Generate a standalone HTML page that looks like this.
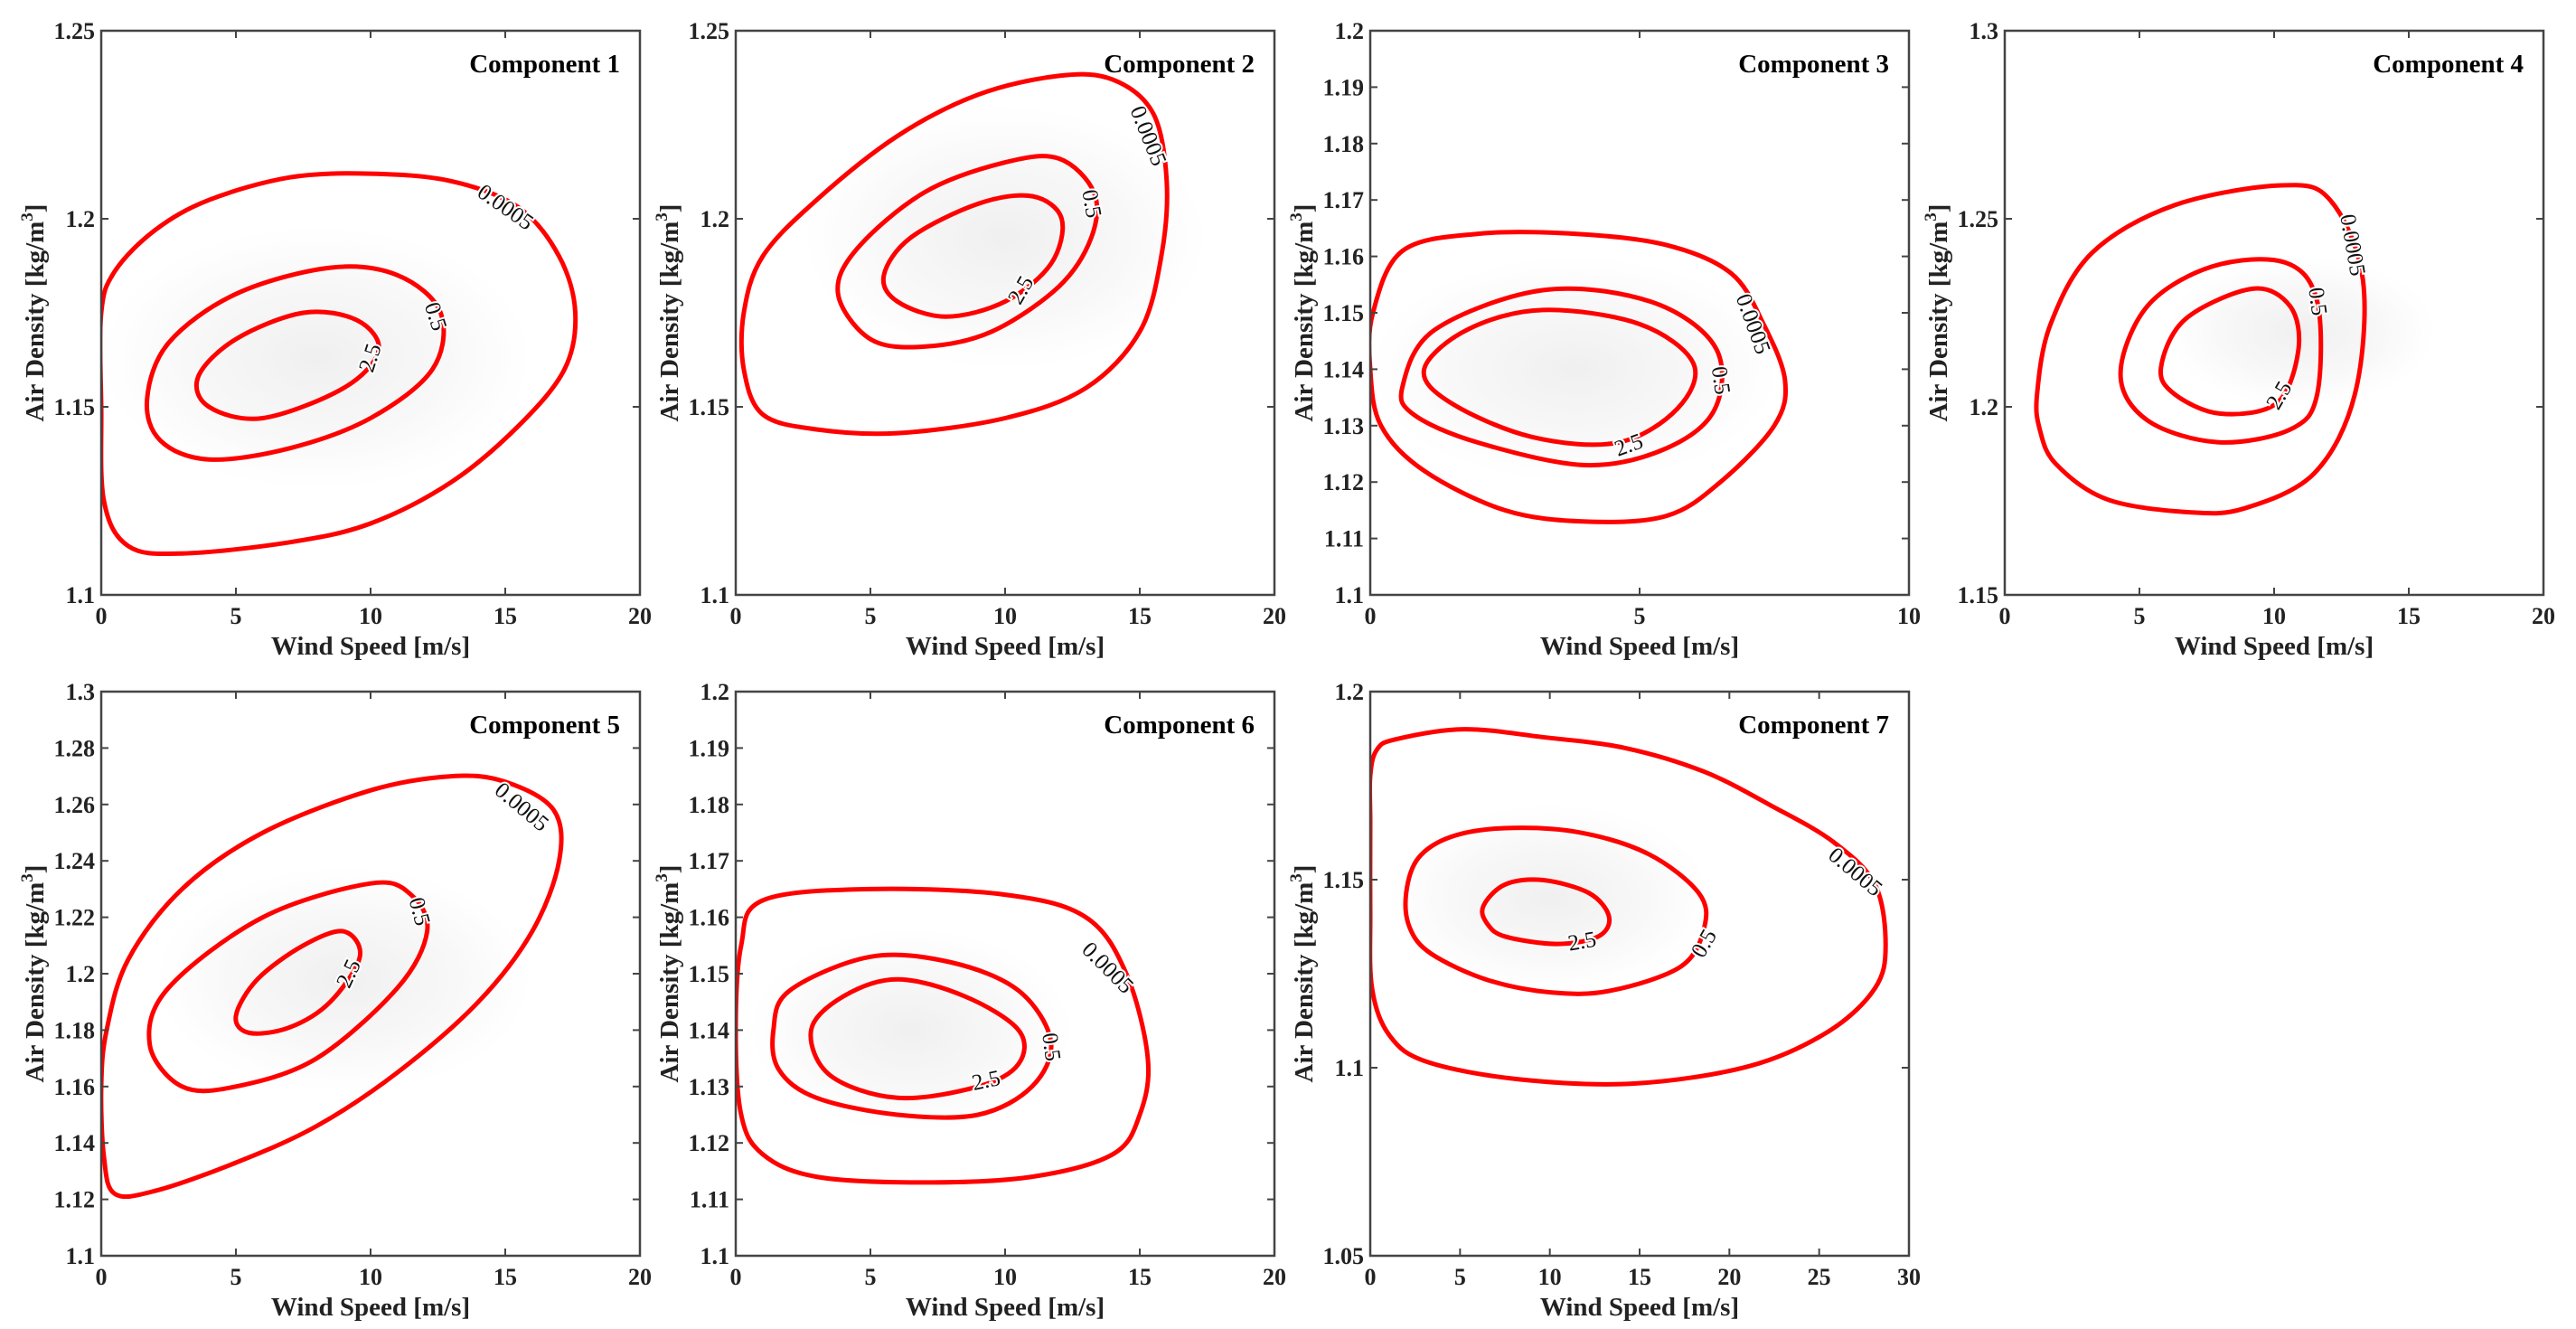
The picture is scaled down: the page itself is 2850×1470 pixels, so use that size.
<!DOCTYPE html>
<html><head><meta charset="utf-8">
<style>
html,body{margin:0;padding:0;background:#fff;}
svg{display:block;}
text{font-family:"Liberation Serif",serif;}
.tick{font-weight:bold;font-size:26px;fill:#222;}
.axl{font-weight:bold;font-size:29px;fill:#222;}
.ttl{font-weight:bold;font-size:29px;fill:#000;}
.cl{font-size:25px;fill:#111;}
</style></head>
<body>
<svg id="fig" width="2850" height="1470" viewBox="0 0 2850 1470" xmlns="http://www.w3.org/2000/svg">
<defs>
<radialGradient id="haze" cx="50%" cy="50%" r="50%">
<stop offset="0%" stop-color="#888" stop-opacity="0.13"/>
<stop offset="60%" stop-color="#999" stop-opacity="0.07"/>
<stop offset="100%" stop-color="#aaa" stop-opacity="0"/>
</radialGradient>
</defs>
</svg>
<script>
const p1Outer=[[0,1.175],[0.5,1.186],[2,1.197],[4,1.205],[7,1.211],[10,1.212],[13,1.21],[15.5,1.203],[17,1.19],[17.6,1.175],[17.2,1.16],[15.5,1.145],[13,1.13],[10,1.119],[7,1.114],[3,1.111],[1,1.113],[0.1,1.125],[0,1.15]];
const p1Mid=[[1.7,1.152],[2.5,1.167],[5,1.18],[8.5,1.187],[11,1.185],[12.6,1.175],[12.3,1.16],[10,1.147],[7,1.139],[4,1.136],[2.2,1.141]];
const p1Inner=[[3.6,1.158],[5,1.168],[7.5,1.175],[9.5,1.173],[10.3,1.165],[9,1.155],[6,1.147],[4,1.15]];
const p2Outer=[[0.3,1.175],[1,1.19],[3,1.205],[6,1.222],[9,1.233],[12,1.238],[14,1.237],[15.5,1.228],[16,1.21],[15.8,1.19],[15,1.17],[13,1.155],[10,1.147],[6,1.143],[3,1.144],[1,1.148],[0.3,1.16]];
const p2Mid=[[3.8,1.18],[4.5,1.192],[7,1.207],[10,1.215],[12,1.216],[13.3,1.207],[13.2,1.195],[12,1.182],[9.5,1.17],[7,1.166],[5,1.168]];
const p2Inner=[[5.5,1.185],[6.5,1.195],[9,1.204],[11,1.206],[12.1,1.2],[11.7,1.188],[10,1.178],[7.8,1.174],[6,1.178]];
const p3Outer=[[0.05,1.15],[0.6,1.161],[2,1.164],[3.8,1.164],[5.5,1.162],[6.7,1.157],[7.3,1.148],[7.7,1.138],[7.5,1.13],[6.5,1.12],[5.5,1.114],[4,1.113],[2.5,1.115],[1,1.122],[0.2,1.13],[0,1.14]];
const p3Mid=[[0.6,1.137],[1.2,1.147],[3.2,1.154],[5.2,1.152],[6.4,1.144],[6.4,1.133],[5.5,1.126],[4,1.123],[2,1.127],[0.8,1.132]];
const p3Inner=[[1,1.14],[1.8,1.147],[3.2,1.1505],[5,1.148],[6,1.141],[5.7,1.133],[4.6,1.127],[3,1.128],[1.5,1.134]];
const p4Outer=[[1.2,1.2035],[1.7,1.222],[3.25,1.241],[6.3,1.2536],[10.3,1.2589],[12.1,1.2548],[13.3,1.2337],[13,1.2034],[11.5,1.1824],[8.9,1.173],[6.8,1.172],[3.8,1.1754],[1.9,1.1848],[1.3,1.194]];
const p4Mid=[[4.3,1.2087],[5.3,1.2268],[7.7,1.2373],[10.4,1.2384],[11.6,1.228],[11.6,1.2034],[10.6,1.194],[7.9,1.1906],[5.3,1.1964]];
const p4Inner=[[5.8,1.2104],[6.7,1.2233],[9.2,1.2314],[10.6,1.2267],[10.9,1.215],[10.1,1.201],[8,1.1982],[6.3,1.2034]];
const p5Outer=[[0.1,1.135],[0.5,1.122],[2,1.123],[5,1.133],[8,1.146],[11,1.165],[14,1.19],[16,1.215],[17,1.24],[16.8,1.258],[15,1.268],[13,1.27],[10,1.265],[6,1.25],[3,1.23],[1,1.205],[0.2,1.18],[0,1.16]];
const p5Mid=[[1.8,1.175],[3,1.16],[5,1.16],[8,1.17],[11,1.195],[12.1,1.215],[11.5,1.228],[10,1.232],[6,1.22],[2.5,1.195]];
const p5Inner=[[5,1.185],[5.8,1.198],[7.5,1.21],[9,1.215],[9.6,1.206],[8.5,1.19],[7,1.181],[5.5,1.179]];
const p6Outer=[[0,1.14],[0.2,1.155],[1,1.163],[5,1.165],[10,1.164],[13,1.16],[14.5,1.15],[15.3,1.135],[15,1.125],[14,1.118],[11,1.114],[7,1.113],[3,1.114],[1,1.118],[0.2,1.125]];
const p6Mid=[[1.4,1.14],[2,1.147],[5,1.153],[8,1.152],[10.5,1.147],[11.7,1.138],[11,1.13],[9,1.125],[6,1.125],[3,1.128],[1.6,1.133]];
const p6Inner=[[2.8,1.14],[4,1.146],[6,1.149],[8.5,1.146],[10.5,1.14],[10.5,1.134],[9,1.13],[6,1.128],[3.5,1.132]];
const p7Outer=[[0,1.1776],[0.36,1.1845],[1.4,1.1873],[5.2,1.19],[9.6,1.1879],[14.2,1.185],[18.6,1.1787],[22.4,1.1695],[25.8,1.16],[28.1,1.1488],[28.7,1.1326],[28.1,1.1211],[25.5,1.1096],[21.1,1.1004],[14.7,1.0958],[8.3,1.0969],[3.2,1.1015],[1.1,1.1084],[0.1,1.1211],[0,1.1418],[0,1.1649]];
const p7Mid=[[2,1.1464],[2.67,1.1557],[4.5,1.1614],[7.5,1.1637],[11.6,1.1626],[15.5,1.1568],[18.3,1.1464],[18.6,1.1372],[17.3,1.1269],[13.4,1.1205],[10.1,1.12],[6.5,1.1234],[3.4,1.1303],[2.2,1.1372]];
const p7Inner=[[6.3,1.143],[7.5,1.1487],[9.6,1.1499],[12.2,1.1464],[13.3,1.1401],[12.7,1.1349],[10.4,1.1329],[7.5,1.1349],[6.5,1.1384]];

const xTicks20=[0,5,10,15,20];
const xTicks10=[0,5,10];
const xTicks30=[0,5,10,15,20,25,30];
const yTicksA=[1.1,1.15,1.2,1.25];
const yTicks3=[1.1,1.11,1.12,1.13,1.14,1.15,1.16,1.17,1.18,1.19,1.2];
const yTicks4=[1.15,1.2,1.25,1.3];
const yTicks5=[1.1,1.12,1.14,1.16,1.18,1.2,1.22,1.24,1.26,1.28,1.3];
const yTicks7=[1.05,1.1,1.15,1.2];

const p1Labels=[["0.0005",15,1.203,35],["0.5",12.4,1.174,72],["2.5",10,1.163,-72]];
const p2Labels=[["0.0005",15.3,1.222,68],["0.5",13.2,1.204,80],["2.5",10.6,1.181,-60]];
const p3Labels=[["0.0005",7.1,1.148,70],["0.5",6.5,1.138,82],["2.5",4.8,1.1265,-20]];
const p4Labels=[["0.0005",12.9,1.243,80],["0.5",11.6,1.228,82],["2.5",10.2,1.203,-60]];
const p5Labels=[["0.0005",15.6,1.259,40],["0.5",11.8,1.222,75],["2.5",9.2,1.2,-65]];
const p6Labels=[["0.0005",13.8,1.151,45],["0.5",11.7,1.137,82],["2.5",9.3,1.131,-12]];
const p7Labels=[["0.0005",27,1.152,40],["0.5",18.6,1.133,-60],["2.5",11.8,1.1335,-10]];

const p1Haze=[8,1.163,8,0.035];
const p2Haze=[10,1.195,7.5,0.035];
const p3Haze=[3.8,1.14,3.8,0.02];
const p4Haze=[11,1.22,5,0.02];
const p5Haze=[9,1.198,7,0.04];
const p6Haze=[6.5,1.14,6,0.018];
const p7Haze=[10,1.145,9,0.025];

const panels=[
 {n:1,L:112,T:34,x:[0,20],y:[1.1,1.25],xt:xTicks20,yt:yTicksA,c:[p1Outer,p1Mid,p1Inner],lab:p1Labels,h:p1Haze},
 {n:2,L:814,T:34,x:[0,20],y:[1.1,1.25],xt:xTicks20,yt:yTicksA,c:[p2Outer,p2Mid,p2Inner],lab:p2Labels,h:p2Haze},
 {n:3,L:1516,T:34,x:[0,10],y:[1.1,1.2],xt:xTicks10,yt:yTicks3,c:[p3Outer,p3Mid,p3Inner],lab:p3Labels,h:p3Haze},
 {n:4,L:2218,T:34,x:[0,20],y:[1.15,1.3],xt:xTicks20,yt:yTicks4,c:[p4Outer,p4Mid,p4Inner],lab:p4Labels,h:p4Haze},
 {n:5,L:112,T:765,x:[0,20],y:[1.1,1.3],xt:xTicks20,yt:yTicks5,c:[p5Outer,p5Mid,p5Inner],lab:p5Labels,h:p5Haze},
 {n:6,L:814,T:765,x:[0,20],y:[1.1,1.2],xt:xTicks20,yt:yTicks3,c:[p6Outer,p6Mid,p6Inner],lab:p6Labels,h:p6Haze},
 {n:7,L:1516,T:765,x:[0,30],y:[1.05,1.2],xt:xTicks30,yt:yTicks7,c:[p7Outer,p7Mid,p7Inner],lab:p7Labels,h:p7Haze}
];
const W=596,H=624;
const NS="http://www.w3.org/2000/svg";
const svg=document.getElementById('fig');
function mk(tag,attrs,parent){const e=document.createElementNS(NS,tag);for(const k in attrs)e.setAttribute(k,attrs[k]);(parent||svg).appendChild(e);return e;}
function fmt(v){return String(+v.toFixed(3));}
function smoothClosed(pts){
 const n=pts.length;let d="M"+pts[0][0].toFixed(1)+","+pts[0][1].toFixed(1);
 for(let i=0;i<n;i++){
  const p0=pts[(i-1+n)%n],p1=pts[i],p2=pts[(i+1)%n],p3=pts[(i+2)%n];
  const c1=[p1[0]+(p2[0]-p0[0])/6,p1[1]+(p2[1]-p0[1])/6];
  const c2=[p2[0]-(p3[0]-p1[0])/6,p2[1]-(p3[1]-p1[1])/6];
  d+="C"+c1[0].toFixed(1)+","+c1[1].toFixed(1)+" "+c2[0].toFixed(1)+","+c2[1].toFixed(1)+" "+p2[0].toFixed(1)+","+p2[1].toFixed(1);
 }
 return d+"Z";
}
const levelNames=['contour-0.0005','contour-0.5','contour-2.5'];
panels.forEach(p=>{
 const sx=v=>p.L+(v-p.x[0])/(p.x[1]-p.x[0])*W;
 const sy=v=>p.T+H-(v-p.y[0])/(p.y[1]-p.y[0])*H;
 const g=mk('g',{});
 
 
 const clipId='clip'+p.n;
 const cp=mk('clipPath',{id:clipId},g);mk('rect',{x:p.L,y:p.T,width:W,height:H},cp);
 const plot=mk('g',{'clip-path':'url(#'+clipId+')'},g);
 const hz=mk('ellipse',{cx:sx(p.h[0]),cy:sy(p.h[1]),rx:Math.abs(sx(p.h[0]+p.h[2])-sx(p.h[0])),ry:Math.abs(sy(p.h[1]+p.h[3])-sy(p.h[1])),fill:'url(#haze)'},plot);
 
 
 p.c.forEach((arr,i)=>{
  const pts=arr.map(q=>[sx(q[0]),sy(q[1])]);
  const path=mk('path',{d:smoothClosed(pts),fill:'none',stroke:'#f00','stroke-width':5,'stroke-linejoin':'round'},plot);
  
  
 });
 p.lab.forEach(l=>{
  const t=mk('text',{x:sx(l[1]),y:sy(l[2]),'text-anchor':'middle','dominant-baseline':'central',class:'cl',transform:'rotate('+l[3]+' '+sx(l[1])+' '+sy(l[2])+')',stroke:'#fff','stroke-width':4,'paint-order':'stroke'},plot);
  t.textContent=l[0];
  
  
 });
 const fr=mk('rect',{x:p.L,y:p.T,width:W,height:H,fill:'none',stroke:'#444','stroke-width':2.5},g);
 
 
 const tl=8;
 p.xt.forEach(v=>{
  const X=sx(v);
  mk('line',{x1:X,y1:p.T+H,x2:X,y2:p.T+H-tl,stroke:'#444','stroke-width':2},g);
  mk('line',{x1:X,y1:p.T,x2:X,y2:p.T+tl,stroke:'#444','stroke-width':2},g);
  const t=mk('text',{x:X,y:p.T+H+32,'text-anchor':'middle',class:'tick'},g);
  t.textContent=fmt(v);
  
  
 });
 p.yt.forEach(v=>{
  const Y=sy(v);
  mk('line',{x1:p.L,y1:Y,x2:p.L+tl,y2:Y,stroke:'#444','stroke-width':2},g);
  mk('line',{x1:p.L+W,y1:Y,x2:p.L+W-tl,y2:Y,stroke:'#444','stroke-width':2},g);
  const t=mk('text',{x:p.L-7,y:Y+9,'text-anchor':'end',class:'tick'},g);
  t.textContent=fmt(v);
  
  
 });
 const xl=mk('text',{x:p.L+W/2,y:p.T+H+66,'text-anchor':'middle',class:'axl'},g);
 xl.textContent='Wind Speed [m/s]';
 
 
 const yx=p.L-64,yy=p.T+H/2;
 const yl=mk('text',{x:yx,y:yy,'text-anchor':'middle',class:'axl',transform:'rotate(-90 '+yx+' '+yy+')'},g);
 yl.textContent='Air Density [kg/m';
 const sup=mk('tspan',{dy:-12,'font-size':'19px'},yl);sup.textContent='3';
 const cl=mk('tspan',{dy:12},yl);cl.textContent=']';
 
 
 const tt=mk('text',{x:p.L+W-22,y:p.T+46,'text-anchor':'end',class:'ttl'},g);
 tt.textContent='Component '+p.n;
 
 
});
</script>
</body></html>
